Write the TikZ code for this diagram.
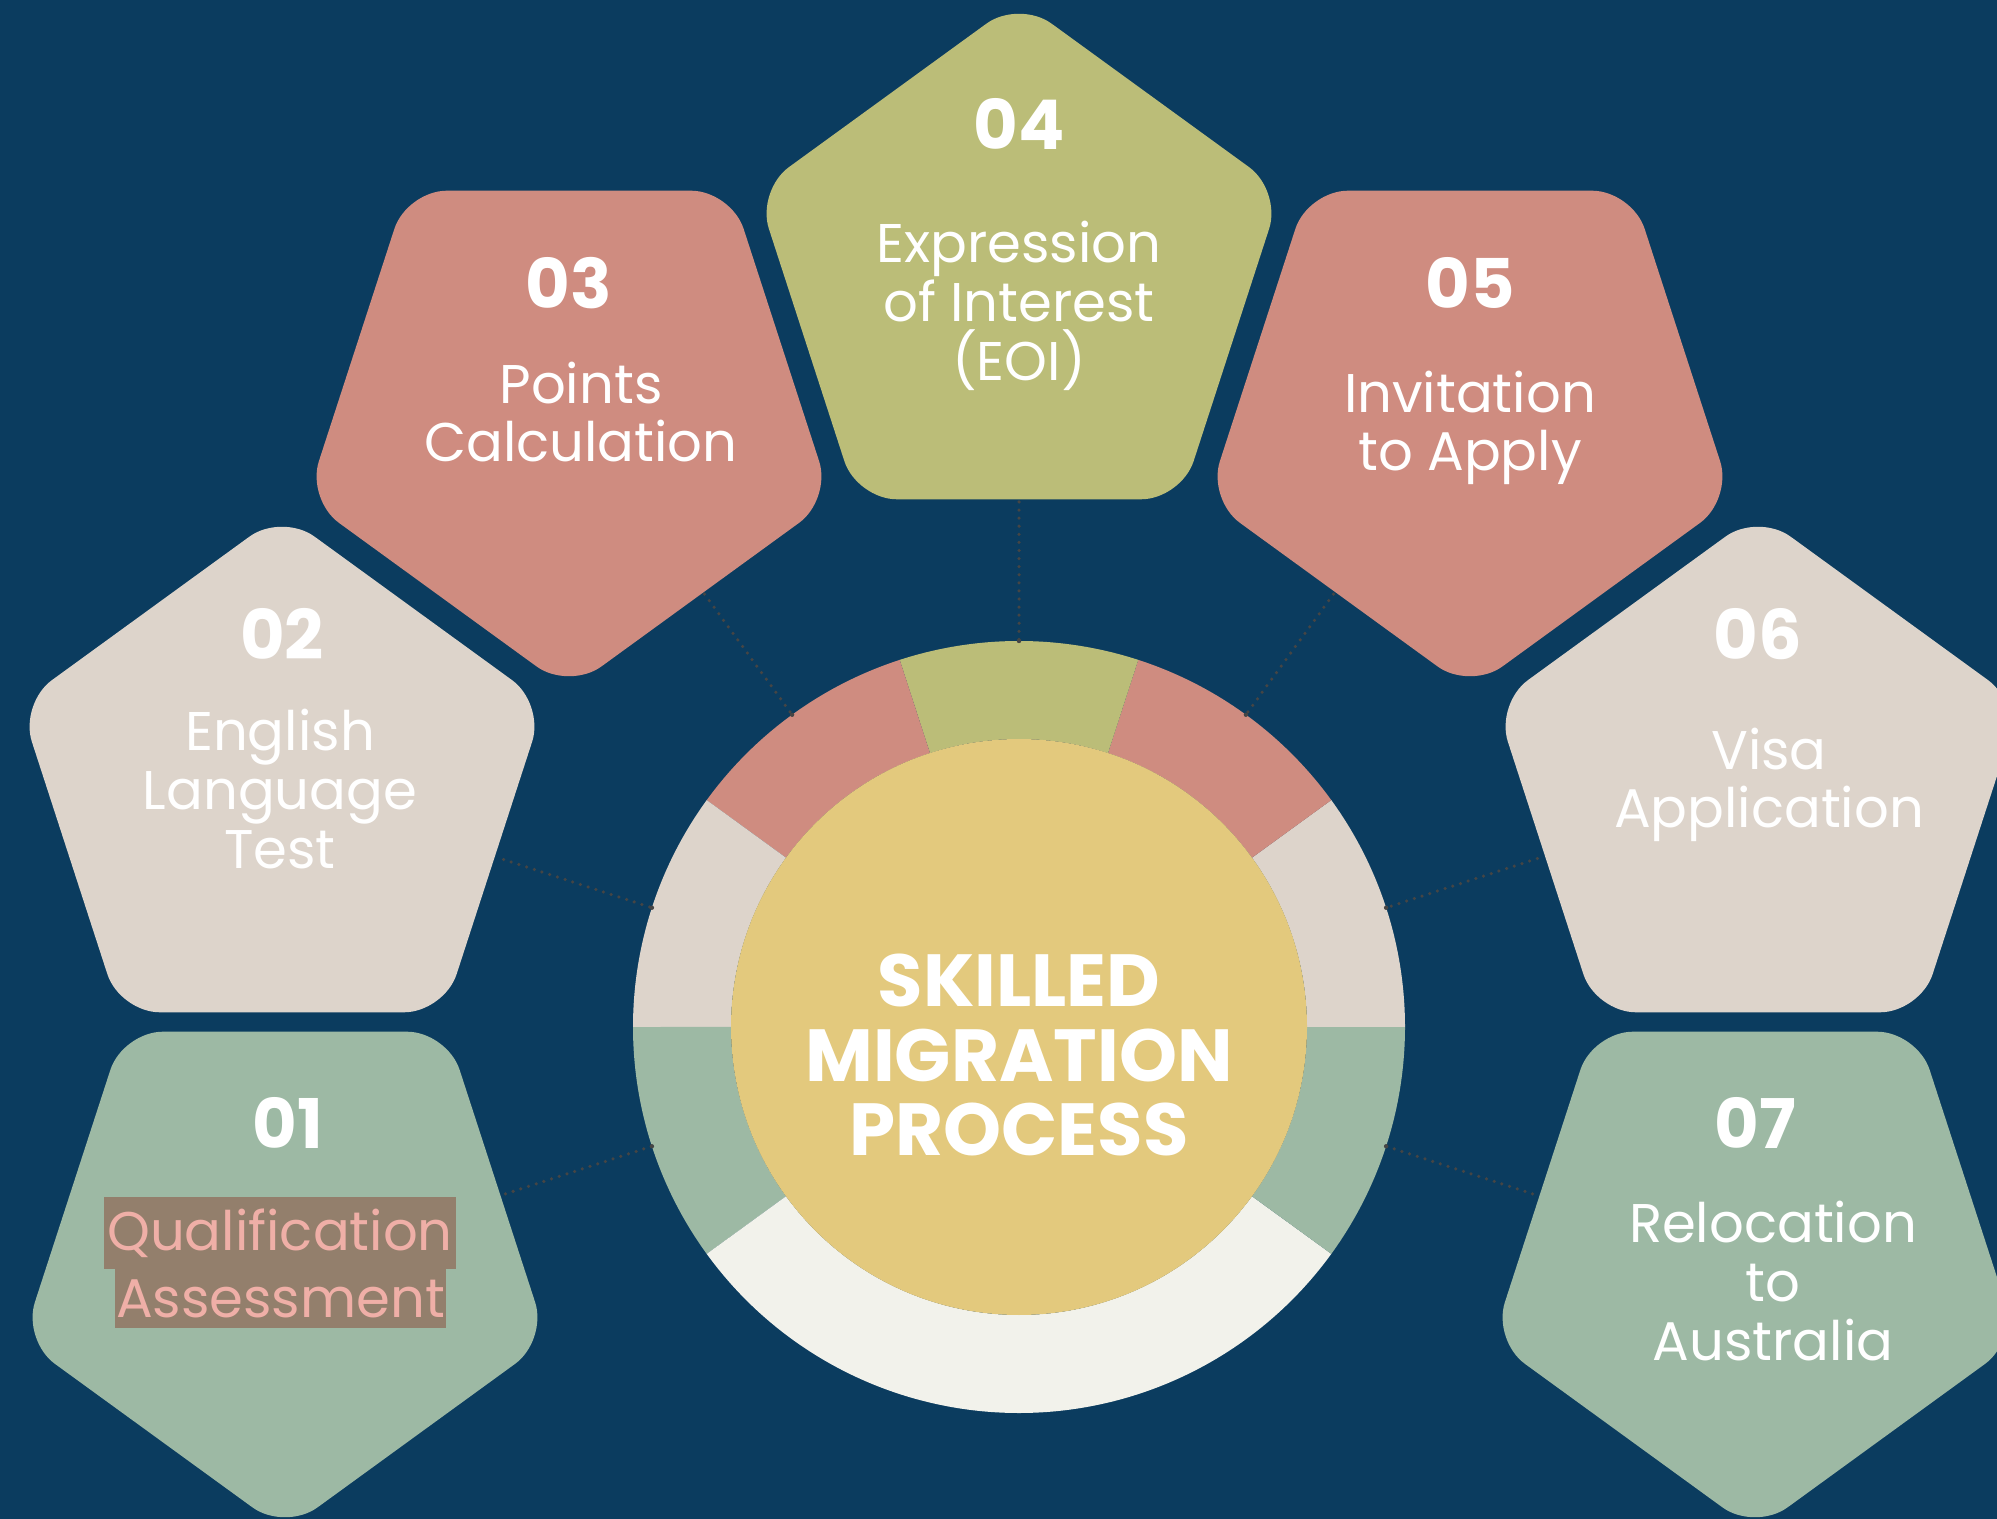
\documentclass[tikz,border=0pt]{standalone}
\usepackage{fontspec}
\setmainfont{Poppins}
\usetikzlibrary{shapes.geometric,calc,positioning}
\definecolor{navy}{HTML}{0B3C5F}
\definecolor{rose}{HTML}{CF8C80}
\definecolor{olive}{HTML}{BBBD78}
\definecolor{sand}{HTML}{DDD4CB}
\definecolor{sage}{HTML}{9DB9A4}
\definecolor{mustard}{HTML}{E3C97D}
\definecolor{cream}{HTML}{F2F2EB}
\definecolor{dotgray}{HTML}{454545}
\definecolor{hlbrown}{HTML}{937F6C}
\definecolor{hlpink}{HTML}{EFAFA7}

\begin{document}
\begin{tikzpicture}[
    pent/.style={regular polygon, regular polygon sides=5, minimum size=5.52cm, inner sep=0pt, rounded corners=4mm},
    num/.style={text=white, font=\fontsize{19.5}{20}\selectfont\bfseries},
    lbl/.style={text=white, align=center, font=\fontsize{15.5}{16.7}\selectfont},
    hl/.style={fill=hlbrown, text=hlpink, inner sep=0pt, font=\fontsize{15.5}{16.7}\selectfont},
    title/.style={text=white, align=center, font=\fontsize{21}{21.3}\selectfont\bfseries},
    link/.style={dotgray, line width=1pt, dash pattern=on 0pt off 2.3pt, line cap=round}
]
    \useasboundingbox (0,0) rectangle (19.97,-15.19);
    \fill[navy] (0,0) rectangle (19.97,-15.19);
    \coordinate (c) at (10.19,-10.27);
    % Ring segments
    \foreach \a/\b/\col in {0/36/sand, 36/72/rose, 72/108/olive, 108/144/rose, 144/180/sand, 180/216/sage, 216/324/cream, 324/360/sage} {
        \fill[\col] ($(c)+(\a:3.86)$) arc[start angle=\a, end angle=\b, radius=3.86]
             -- ($(c)+(\b:2.88)$) arc[start angle=\b, end angle=\a, radius=2.88] -- cycle;
    }
    \node[circle, fill=mustard, minimum size=5.76cm, inner sep=0pt] (core) at (c) {};
    % Dotted links
    \foreach \i/\a/\r in {1/198/5.4, 2/162/5.42, 3/126/5.35, 4/90/5.25, 5/54/5.35, 6/18/5.45, 7/-18/5.4} {
        \coordinate (r\i) at ($(c)+(\a:3.86)$);
        \coordinate (e\i) at ($(c)+(\a:\r)$);
        \draw[link] (e\i) -- (r\i);
        \fill[dotgray] (r\i) circle (0.022);
    }
    % Pentagons
    \node[pent, fill=sage, shape border rotate=180] (p1) at (2.85,-12.55) {};
    \node[pent, fill=sand] (p2) at (2.82,-7.89) {};
    \node[pent, fill=rose, shape border rotate=180] (p3) at (5.69,-4.14) {};
    \node[pent, fill=olive] (p4) at (10.19,-2.76) {};
    \node[pent, fill=rose, shape border rotate=180] (p5) at (14.70,-4.14) {};
    \node[pent, fill=sand] (p6) at (17.58,-7.89) {};
    \node[pent, fill=sage, shape border rotate=180] (p7) at (17.55,-12.55) {};
    % Numbers
    \node[num] (n1) at ($(p1)+(0.03,1.32)$) {01};
    \node[num] (n2) at ($(p2)+(0,1.55)$) {02};
    \node[num] (n3) at ($(p3)+(0,1.31)$) {03};
    \node[num] (n4) at ($(p4)+(0,1.52)$) {04};
    \node[num] (n5) at ($(p5)+(0,1.31)$) {05};
    \node[num] (n6) at ($(p6)+(0,1.55)$) {06};
    \node[num] (n7) at ($(p7)+(0,1.32)$) {07};
    % Step labels
    \node[hl, minimum width=3.52cm, minimum height=0.72cm] (t1a) at ($(p1)+(-0.05,0.22)$) {Qualification};
    \node[hl, minimum width=3.31cm, minimum height=0.59cm] (t1b) at ($(p1)+(-0.045,-0.435)$) {Assessment};
    \node[lbl] (t2) at ($(p2)+(-0.02,0)$) {English\\Language\\Test};
    \node[lbl] (t3) at ($(p3)+(0.12,0.02)$) {Points\\Calculation};
    \node[lbl] (t4) at ($(p4)+(0,-0.30)$) {Expression\\of Interest\\(EOI)};
    \node[lbl] (t5) at ($(p5)+(0,-0.14)$) {Invitation\\to Apply};
    \node[lbl] (t6) at ($(p6)+(0.11,0.04)$) {Visa\\Application};
    \node[lbl] (t7) at ($(p7)+(0.18,-0.26)$) {Relocation\\to\\Australia};
    \node[title] (ttl) at ($(c)+(0,-0.28)$) {SKILLED\\MIGRATION\\PROCESS};
\end{tikzpicture}
\end{document}
